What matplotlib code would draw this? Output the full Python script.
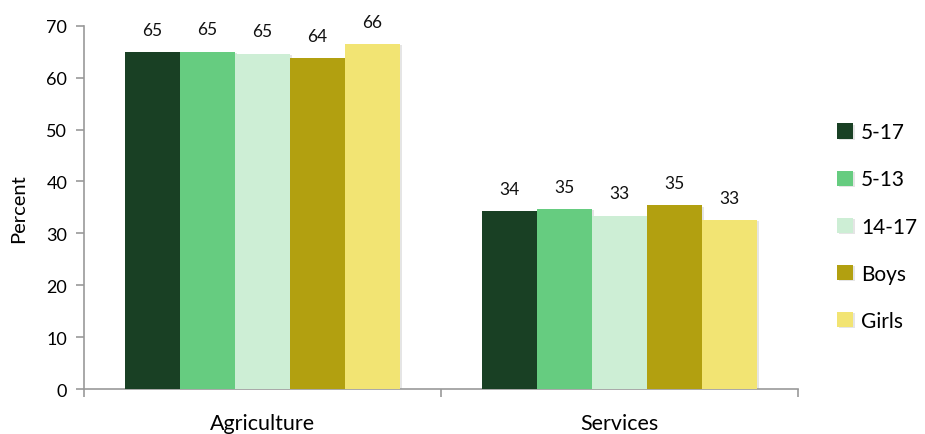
import numpy as np
import matplotlib
matplotlib.use("Agg")
import matplotlib.pyplot as plt
import matplotlib.patheffects as pe

plt.rcParams['font.family'] = ['Lato', 'DejaVu Sans']

# Chart data
categories = ["Agriculture", "Services"]
series = ["5-17", "5-13", "14-17", "Boys", "Girls"]
values = {
    "5-17":  [64.9, 34.3],
    "5-13":  [65.0, 34.7],
    "14-17": [64.6, 33.4],
    "Boys":  [63.8, 35.4],
    "Girls": [66.5, 32.6],
}
labels = {
    "5-17":  ["65", "34"],
    "5-13":  ["65", "35"],
    "14-17": ["65", "33"],
    "Boys":  ["64", "35"],
    "Girls": ["66", "33"],
}
colors = ["#194024", "#66cc80", "#cdeed5", "#b2a010", "#f2e473"]

fig = plt.figure(figsize=(9.25, 4.35), dpi=100)
ax = fig.add_axes([0.0908, 0.1034, 0.772, 0.835])

x = np.arange(len(categories))
width = 0.154
shadow = [pe.SimplePatchShadow(offset=(1.5, -1), shadow_rgbFace="#999999", alpha=0.25), pe.Normal()]

for i, (name, col) in enumerate(zip(series, colors)):
    pos = x + (i - 2) * width
    bars = ax.bar(pos, values[name], width, color=col, label=name, zorder=3)
    for b in bars:
        b.set_path_effects(shadow)
    for xp, v, lab in zip(pos, values[name], labels[name]):
        ax.annotate(lab, (xp, v), xytext=(0, 12.5), textcoords="offset points",
                    ha="center", va="baseline", fontsize=12.5, color="#111111")

ax.set_xlim(-0.5, 1.5)
ax.set_ylim(0, 70)
ax.set_yticks(range(0, 71, 10))
ax.set_xticks([-0.5, 0.5, 1.5])
ax.set_xticklabels([])
ax.set_xticks(x, minor=True)
ax.set_xticklabels(categories, minor=True, fontsize=15.5)
ax.tick_params(axis="x", which="minor", length=0, pad=17)
ax.tick_params(axis="x", which="major", length=6, color="#999999", width=1.2)
ax.tick_params(axis="y", length=6, color="#999999", width=1.2, labelsize=13, pad=6)

for s in ["top", "right"]:
    ax.spines[s].set_visible(False)
for s in ["left", "bottom"]:
    ax.spines[s].set_color("#999999")
    ax.spines[s].set_linewidth(1.2)

ax.set_ylabel("Percent", fontsize=14.5, labelpad=14)

ax.legend(loc="center left", bbox_to_anchor=(0.905, 0.477), bbox_transform=fig.transFigure,
          frameon=False, fontsize=15, handlelength=0.75, handleheight=0.75,
          handletextpad=0.4, labelspacing=1.3, borderpad=0, borderaxespad=0)

fig.savefig("out.png", dpi=100)
